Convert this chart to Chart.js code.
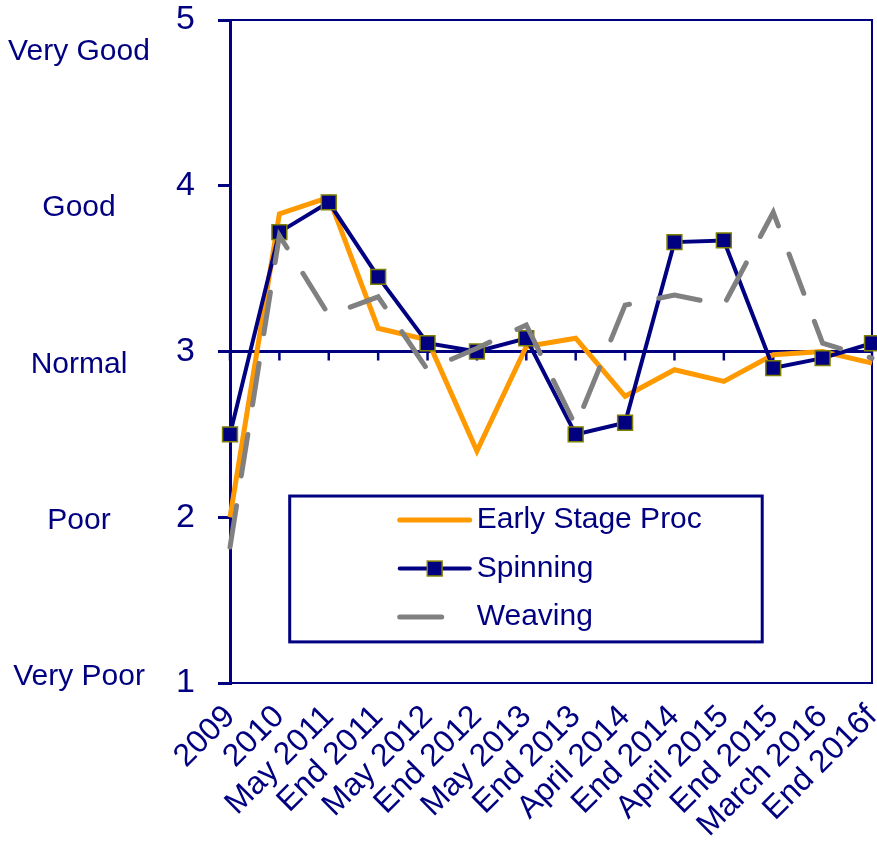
<!DOCTYPE html>
<html>
<head>
<meta charset="utf-8">
<script src="https://cdn.jsdelivr.net/npm/chart.js@4.4.1/dist/chart.umd.min.js"></script>
<style>
  html, body { margin: 0; padding: 0; background: #fff; }
  #wrap { width: 877px; height: 841px; position: relative; }
</style>
</head>
<body>
<div id="wrap"><canvas id="chart"></canvas></div>
<script>
// --- DATI ---
const categories = ['2009', '2010', 'May 2011', 'End 2011', 'May 2012', 'End 2012', 'May 2013',
  'End 2013', 'April 2014', 'End 2014', 'April 2015', 'End 2015', 'March 2016', 'End 2016f'];
const earlyStage = [2.0, 3.83, 3.93, 3.14, 3.07, 2.40, 3.03, 3.08, 2.73, 2.89, 2.82, 2.98, 3.0, 2.93];
const spinning   = [2.5, 3.72, 3.90, 3.45, 3.05, 3.00, 3.08, 2.50, 2.57, 3.66, 3.67, 2.90, 2.96, 3.05];
const weaving    = [1.82, 3.70, 3.22, 3.33, 2.89, 3.02, 3.16, 2.55, 3.28, 3.34, 3.28, 3.84, 3.05, 2.96];
const ratingLabels = ['Very Good', 'Good', 'Normal', 'Poor', 'Very Poor'];
const yMin = 1, yMax = 5;

const NAVY = '#000080';
const FONT = '"Liberation Sans", Arial, sans-serif';

// frame, linea a 3 con tacche
const framePlugin = {
  id: 'frame',
  beforeDatasetsDraw(chart) {
    const { ctx, chartArea: a, scales: { x, y } } = chart;
    ctx.save();
    ctx.strokeStyle = NAVY;
    ctx.lineWidth = 2;
    ctx.beginPath();
    ctx.moveTo(a.left, a.top);
    ctx.lineTo(a.right, a.top);
    ctx.lineTo(a.right, a.bottom);
    ctx.stroke();

    const y3 = y.getPixelForValue(3);
    ctx.lineWidth = 3;
    ctx.beginPath();
    ctx.moveTo(a.left, y3);
    ctx.lineTo(a.right, y3);
    ctx.stroke();
    ctx.lineWidth = 2.5;
    categories.forEach((c, i) => {
      const px = x.getPixelForValue(i);
      ctx.beginPath();
      ctx.moveTo(px, y3);
      ctx.lineTo(px, y3 + 9);
      ctx.stroke();
    });
    ctx.restore();
  }
};

// etichette Very Good ... Very Poor
const ratingPlugin = {
  id: 'rating',
  afterDraw(chart) {
    const { ctx, scales: { y } } = chart;
    const yTop = y.getPixelForValue(4.82);
    const yBot = y.getPixelForValue(1.05);
    const step = (yBot - yTop) / (ratingLabels.length - 1);
    ctx.save();
    ctx.fillStyle = NAVY;
    ctx.font = '30px ' + FONT;
    ctx.textAlign = 'center';
    ctx.textBaseline = 'middle';
    ratingLabels.forEach((t, i) => ctx.fillText(t, 79, yTop + 2 + i * step));
    ctx.restore();
  }
};

// legenda dentro il grafico
const legendPlugin = {
  id: 'boxLegend',
  afterDatasetsDraw(chart) {
    const { ctx, chartArea: a } = chart;
    const w = a.right - a.left, h = a.bottom - a.top;
    const left = a.left + w * 0.093, right = a.left + w * 0.829;
    const top = a.top + h * 0.718, bottom = a.top + h * 0.938;
    ctx.save();
    ctx.fillStyle = '#fff';
    ctx.fillRect(left, top, right - left, bottom - top);
    ctx.strokeStyle = NAVY;
    ctx.lineWidth = 3;
    ctx.strokeRect(left, top, right - left, bottom - top);

    ctx.font = '30px ' + FONT;
    ctx.textBaseline = 'middle';
    chart.data.datasets.forEach((ds, i) => {
      const ry = top + 24 + i * 48.5;
      const x0 = left + 110, x1 = left + 180;
      ctx.save();
      ctx.strokeStyle = ds.borderColor;
      ctx.lineWidth = ds.borderWidth;
      ctx.lineCap = 'round';
      if (ds.borderDash) ctx.setLineDash(ds.borderDash);
      ctx.beginPath();
      ctx.moveTo(x0, ry);
      ctx.lineTo(x1, ry);
      ctx.stroke();
      ctx.restore();
      if (ds.pointRadius > 0) {
        const s = ds.pointRadius * Math.SQRT1_2;
        const cx = (x0 + x1) / 2;
        ctx.fillStyle = ds.pointBackgroundColor;
        ctx.fillRect(cx - s, ry - s, 2 * s, 2 * s);
        ctx.strokeStyle = ds.pointBorderColor;
        ctx.lineWidth = ds.pointBorderWidth;
        ctx.strokeRect(cx - s, ry - s, 2 * s, 2 * s);
      }
      ctx.fillStyle = NAVY;
      ctx.fillText(ds.label, left + 187, ry);
    });
    ctx.restore();
  }
};

new Chart(document.getElementById('chart'), {
  type: 'line',
  data: {
    labels: categories,
    datasets: [
      {
        label: 'Early Stage Proc',
        data: earlyStage,
        borderColor: '#FF9900',
        borderWidth: 5,
        pointRadius: 0,
        tension: 0,
        clip: false,
        order: 2
      },
      {
        label: 'Spinning',
        data: spinning,
        borderColor: NAVY,
        borderWidth: 4,
        pointStyle: 'rect',
        pointRadius: 10.5,
        pointBackgroundColor: NAVY,
        pointBorderColor: '#808000',
        pointBorderWidth: 1.5,
        tension: 0,
        clip: false,
        order: 1
      },
      {
        label: 'Weaving',
        data: weaving,
        borderColor: '#808080',
        borderWidth: 5,
        borderDash: [42, 30],
        borderCapStyle: 'round',
        pointRadius: 0,
        tension: 0,
        clip: false,
        order: 0
      }
    ]
  },
  options: {
    responsive: true,
    maintainAspectRatio: false,
    animation: false,
    layout: { autoPadding: false, padding: { top: 20, right: 5, left: 0, bottom: 0 } },
    plugins: {
      legend: { display: false },
      tooltip: { enabled: false }
    },
    scales: {
      x: {
        type: 'category',
        offset: false,
        grid: { display: false, drawTicks: false },
        border: { display: true, color: NAVY, width: 2 },
        ticks: {
          autoSkip: false,
          maxRotation: 45,
          minRotation: 45,
          padding: 15,
          color: NAVY,
          font: { size: 32, family: FONT }
        },
        afterFit(scale) {
          scale.height = 158;
          scale.paddingLeft = 0;
          scale.paddingRight = 0;
        }
      },
      y: {
        min: yMin,
        max: yMax,
        ticks: {
          stepSize: 1,
          padding: 23,
          color: NAVY,
          font: { size: 34, family: FONT }
        },
        grid: {
          drawOnChartArea: false,
          drawTicks: true,
          tickLength: 12,
          color: NAVY,
          lineWidth: 3
        },
        border: { display: true, color: NAVY, width: 3 },
        afterFit(scale) {
          scale.width = 230;
          scale.paddingTop = 0;
          scale.paddingBottom = 0;
        }
      }
    }
  },
  plugins: [framePlugin, ratingPlugin, legendPlugin]
});
</script>
</body>
</html>
